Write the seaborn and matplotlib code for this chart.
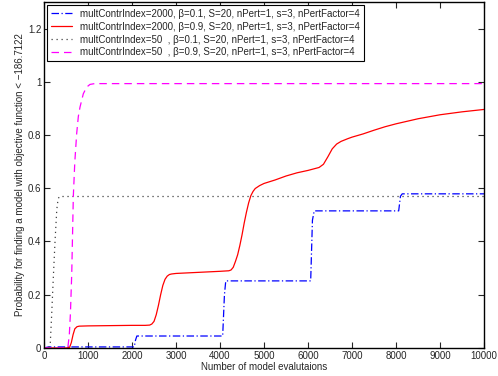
import matplotlib
matplotlib.use("Agg")
import matplotlib.pyplot as plt
import seaborn as sns
import pandas as pd

sns.set_style("white")
plt.rcParams['font.family'] = ['Liberation Sans', 'DejaVu Sans']

labels = [
    "multContrIndex=2000, \u03b2=0.1, S=20, nPert=1, s=3, nPertFactor=4",
    "multContrIndex=2000, \u03b2=0.9, S=20, nPert=1, s=3, nPertFactor=4",
    "multContrIndex=50  , \u03b2=0.1, S=20, nPert=1, s=3, nPertFactor=4",
    "multContrIndex=50  , \u03b2=0.9, S=20, nPert=1, s=3, nPertFactor=4",
]

blue_x = [0, 100, 2050, 2080, 2110, 4060, 4100, 4130, 6060, 6100, 6140, 8060, 8100, 8140, 10000]
blue_y = [0.0, 0.004, 0.004, 0.03, 0.045, 0.045, 0.2, 0.252, 0.252, 0.48, 0.515, 0.515, 0.57, 0.579, 0.579]

red_x = [0, 500, 580, 620, 660, 700, 750, 800, 1000, 1500, 2000, 2300, 2400, 2450, 2500,
         2550, 2600, 2650, 2700, 2750, 2800, 2850, 2900, 3000, 3500, 4000, 4200, 4250, 4300,
         4350, 4400, 4450, 4500, 4550, 4600, 4650, 4700, 4750, 4800, 4900, 5000, 5250, 5500,
         5750, 6000, 6250, 6350, 6450, 6550, 6650, 6750, 6900, 7000, 7250, 7500, 7750, 8000,
         8500, 9000, 9500, 10000]
red_y = [0, 0, 0.002, 0.02, 0.05, 0.072, 0.08, 0.082, 0.083, 0.084, 0.085, 0.085, 0.086, 0.09, 0.1,
         0.125, 0.16, 0.2, 0.235, 0.258, 0.27, 0.276, 0.278, 0.28, 0.284, 0.288, 0.29, 0.293, 0.303,
         0.325, 0.35, 0.385, 0.425, 0.47, 0.51, 0.545, 0.572, 0.588, 0.599, 0.61, 0.618, 0.631, 0.646,
         0.658, 0.667, 0.678, 0.69, 0.718, 0.748, 0.766, 0.776, 0.786, 0.792, 0.804, 0.818, 0.831, 0.842,
         0.861, 0.876, 0.887, 0.896]

black_x = [0, 100, 140, 175, 210, 250, 290, 320, 350, 10000]
black_y = [0, 0, 0.01, 0.13, 0.26, 0.4, 0.52, 0.56, 0.569, 0.569]

mag_x = [0, 540, 575, 600, 630, 666, 700, 742, 780, 818, 893, 970, 1045, 1150, 10000]
mag_y = [0, 0, 0.05, 0.13, 0.28, 0.57, 0.7, 0.805, 0.87, 0.905, 0.955, 0.98, 0.99, 0.993, 0.993]

series = [
    (blue_x, blue_y, labels[0], (0, 0, 1), (0, (6, 2, 1, 2))),
    (red_x, red_y, labels[1], (1, 0, 0), '-'),
    (black_x, black_y, labels[2], (0.25, 0.25, 0.25), (0, (1, 3))),
    (mag_x, mag_y, labels[3], (1, 0, 1), (0, (6, 4))),
]

fig = plt.figure(figsize=(4.98, 3.76), dpi=100)
ax = fig.add_axes([0.0884, 0.0745, 0.8836, 0.9205])

for xs, ys, lab, col, ls in series:
    df = pd.DataFrame({"x": xs, "y": ys})
    sns.lineplot(data=df, x="x", y="y", ax=ax, color=col, linestyle=ls, linewidth=0.9,
                 label=lab, estimator=None, sort=False)

ax.set_xlim(0, 10000)
ax.set_ylim(0, 1.3)
ax.set_xticks(range(0, 10001, 1000))
ax.set_yticks([0, 0.2, 0.4, 0.6, 0.8, 1.0, 1.2])
ax.set_yticklabels(["0", "0.2", "0.4", "0.6", "0.8", "1", "1.2"])
ax.tick_params(direction='in', length=4, width=0.8, labelsize=7, top=True, right=True,
               bottom=True, left=True, pad=2)
for s in ax.spines.values():
    s.set_color('black')
    s.set_linewidth(1.0)
ax.set_xlabel("Number of model evalutaions", fontsize=7, labelpad=1)
ax.set_ylabel("Probability for finding a model with objective function < \u2212186.7122", fontsize=7, labelpad=2)

leg = ax.legend(loc='upper left', fontsize=7, frameon=True, fancybox=False, framealpha=1,
                edgecolor='black', handlelength=2.2, borderpad=0.4, labelspacing=0.3,
                borderaxespad=0.3, handletextpad=0.8)
leg.get_frame().set_linewidth(0.8)

fig.savefig("out.png", dpi=100)
